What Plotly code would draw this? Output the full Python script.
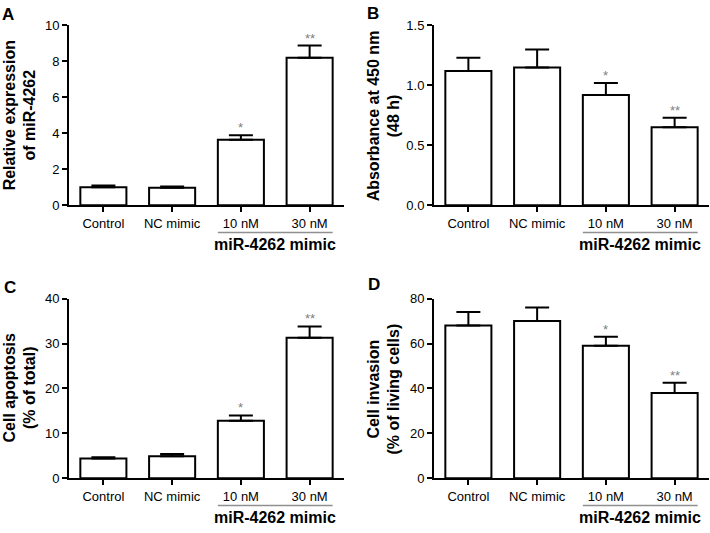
import plotly.graph_objects as go

# ---------------- data ----------------
categories = ["Control", "NC mimic", "10 nM", "30 nM"]

a_mean = [1.0, 0.97, 3.65, 8.2]
a_err = [0.1, 0.08, 0.25, 0.68]
a_sig = ["", "", "*", "**"]

b_mean = [1.12, 1.15, 0.92, 0.65]
b_err = [0.11, 0.15, 0.10, 0.08]
b_sig = ["", "", "*", "**"]

c_mean = [4.4, 4.9, 12.8, 31.3]
c_err = [0.3, 0.5, 1.2, 2.5]
c_sig = ["", "", "*", "**"]

d_mean = [68, 70, 59, 38]
d_err = [6, 6, 4, 4.5]
d_sig = ["", "", "*", "**"]

group_label = "miR-4262 mimic"

panels = [
    dict(letter="A", mean=a_mean, err=a_err, sig=a_sig, ymax=10, dtick=2, fmt="",
         title="Relative expression<br>of miR-4262"),
    dict(letter="B", mean=b_mean, err=b_err, sig=b_sig, ymax=1.5, dtick=0.5, fmt=".1f",
         title="Absorbance at 450 nm<br>(48 h)"),
    dict(letter="C", mean=c_mean, err=c_err, sig=c_sig, ymax=40, dtick=10, fmt="",
         title="Cell apoptosis<br>(% of total)"),
    dict(letter="D", mean=d_mean, err=d_err, sig=d_sig, ymax=80, dtick=20, fmt="",
         title="Cell invasion<br>(% of living cells)"),
]

# ---------------- layout geometry (pixels) ----------------
W, H = 710, 533
px_x = [(69, 344), (434, 709), (69, 344), (434, 709)]
px_y = [(19, 204), (19, 204), (300, 485), (300, 485)]
title_x = [20, 384, 20, 384]
letter_pos = [(8, 8), (373, 7), (10, 289), (374, 286)]

FONT = "Arial, Liberation Sans, sans-serif"
fig = go.Figure()
annotations = []
shapes = []
layout = {}

for i, p in enumerate(panels):
    n = i + 1
    xa = "x" if n == 1 else f"x{n}"
    ya = "y" if n == 1 else f"y{n}"
    xname = "xaxis" if n == 1 else f"xaxis{n}"
    yname = "yaxis" if n == 1 else f"yaxis{n}"
    (x0, x1), (yt, yb) = px_x[i], px_y[i]
    dom_h = yb - yt

    fig.add_trace(go.Bar(
        x=categories, y=p["mean"], xaxis=xa, yaxis=ya, width=0.67,
        marker=dict(color="white", line=dict(color="black", width=2)),
        error_y=dict(type="data", symmetric=False, array=p["err"],
                     arrayminus=[0] * len(p["err"]), color="black",
                     thickness=2, width=12),
        showlegend=False, hoverinfo="skip",
    ))

    layout[xname] = dict(
        domain=[x0 / W, x1 / W], anchor=ya, type="category",
        range=[-0.5, 3.5], showline=True, linecolor="black", linewidth=2,
        ticks="outside", ticklen=5, tickwidth=2, tickcolor="black",
        showgrid=False, zeroline=False,
        tickfont=dict(family=FONT, size=13, color="black"),
    )
    layout[yname] = dict(
        domain=[1 - yb / H, 1 - yt / H], anchor=xa,
        range=[0, p["ymax"]], dtick=p["dtick"], tick0=0, tickformat=p["fmt"],
        showline=True, linecolor="black", linewidth=2,
        ticks="outside", ticklen=5, tickwidth=2, tickcolor="black",
        showgrid=False, zeroline=False,
        tickfont=dict(family=FONT, size=13, color="black"),
    )

    # axis title
    annotations.append(dict(
        text=f"<b>{p['title']}</b>", xref="paper", yref="paper",
        x=title_x[i] / W, y=1 - ((yt + yb) / 2) / H, textangle=-90,
        xanchor="center", yanchor="middle", showarrow=False,
        font=dict(family=FONT, size=16, color="black"),
    ))
    # panel letter
    lx, ly = letter_pos[i]
    annotations.append(dict(
        text=f"<b>{p['letter']}</b>", xref="paper", yref="paper",
        x=lx / W, y=1 - ly / H, xanchor="center", yanchor="middle",
        showarrow=False, font=dict(family=FONT, size=17, color="black"),
    ))
    # significance marks
    for c, m, e, s in zip(categories, p["mean"], p["err"], p["sig"]):
        if s:
            annotations.append(dict(
                text=s, xref=xa, yref=ya, x=c, y=m + e,
                xanchor="center", yanchor="bottom", showarrow=False, yshift=-2,
                font=dict(family=FONT, size=13, color="#808080"),
            ))
    # group bracket
    shapes.append(dict(
        type="line", xref=xa, yref=f"{ya} domain",
        x0=1.665, x1=3.335, y0=-(28 / dom_h), y1=-(28 / dom_h),
        line=dict(color="#909090", width=1.5),
    ))
    annotations.append(dict(
        text=f"<b>{group_label}</b>", xref=xa, yref=f"{ya} domain",
        x=2.5, y=-(51 / dom_h), xanchor="center", yanchor="bottom",
        showarrow=False, font=dict(family=FONT, size=16, color="black"),
    ))

fig.update_layout(
    width=W, height=H, margin=dict(l=0, r=0, t=0, b=0),
    paper_bgcolor="white", plot_bgcolor="white",
    annotations=annotations, shapes=shapes,
    font=dict(family=FONT, color="black"),
    **layout,
)

fig.write_html(
    "out.html",
    config={"displayModeBar": False},
    post_script="document.body.style.margin='0';document.body.style.padding='0';"
                "document.body.style.overflow='hidden';",
)
